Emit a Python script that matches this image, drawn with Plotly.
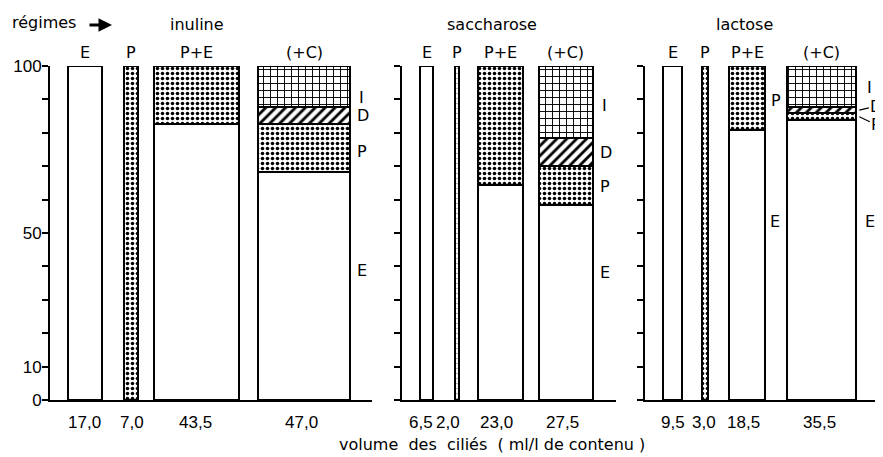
import plotly.graph_objects as go

# ---------------- data ----------------
panels = ["inuline", "saccharose", "lactose"]
regimes = ["E", "P", "P+E", "(+C)"]

# volume des ciliés (ml/l de contenu) -> bar widths
vol_inuline = [17.0, 7.0, 43.5, 47.0]
vol_saccharose = [6.5, 2.0, 23.0, 27.5]
vol_lactose = [9.5, 3.0, 18.5, 35.5]

# composition (%) of each bar: E, P, D, I
E_inuline = [100, 0, 82.6, 68.3]
P_inuline = [0, 100, 17.4, 14.4]
D_inuline = [0, 0, 0, 5.1]
I_inuline = [0, 0, 0, 12.2]

E_saccharose = [100, 0, 64.4, 58.4]
P_saccharose = [0, 100, 35.6, 11.7]
D_saccharose = [0, 0, 0, 8.3]
I_saccharose = [0, 0, 0, 21.6]

E_lactose = [100, 0, 80.8, 83.8]
P_lactose = [0, 100, 19.2, 2.0]
D_lactose = [0, 0, 0, 1.9]
I_lactose = [0, 0, 0, 12.3]

y_tickvals = list(range(0, 101, 10))
y_ticktext = ["0", "10", "", "", "", "50", "", "", "", "", "100"]

vol_labels_inuline = ["17,0", "7,0", "43,5", "47,0"]
vol_labels_saccharose = ["6,5", "2,0", "23,0", "27,5"]
vol_labels_lactose = ["9,5", "3,0", "18,5", "35,5"]

# ---------------- layout constants ----------------
OX, OY = 8, 8                # page body margin of the browser
W, H = 883 - OX, 457 - OY    # figure size so that the page fits the window
S = 1.96                     # px per volume unit
FONT = "DejaVu Sans"
NUMFONT = "Liberation Sans"
FS = 16
panel_px = [(50, 372), (402, 616), (645, 883)]
gaps = {  # gap before each bar, in volume units
    "inuline": [9.3, 11.5, 8.3, 9.7],
    "saccharose": [9.4, 11.0, 9.9, 8.1],
    "lactose": [9.3, 10.1, 11.0, 10.9],
}
vol_shift = {
    "inuline": [0, 1, -1, -3],
    "saccharose": [-6, -9, -4, -3],
    "lactose": [0, -1, -4, -2],
}
y_top_px, y_bot_px = 66, 400


def px(x):
    return (x - OX) / W


def py(y):
    return 1 - (y - OY) / H


vols = {"inuline": vol_inuline, "saccharose": vol_saccharose, "lactose": vol_lactose}
vol_labels = {"inuline": vol_labels_inuline, "saccharose": vol_labels_saccharose,
              "lactose": vol_labels_lactose}
comps = {
    "inuline": {"E": E_inuline, "P": P_inuline, "D": D_inuline, "I": I_inuline},
    "saccharose": {"E": E_saccharose, "P": P_saccharose, "D": D_saccharose, "I": I_saccharose},
    "lactose": {"E": E_lactose, "P": P_lactose, "D": D_lactose, "I": I_lactose},
}
patterns = {
    "E": dict(shape=""),
    "P": dict(shape=".", fgcolor="black", bgcolor="white", size=5, solidity=0.4),
    "D": dict(shape="/", fgcolor="black", bgcolor="white", size=7, solidity=0.4),
    "I": dict(shape="+", fgcolor="black", bgcolor="white", size=7, solidity=0.25),
}

fig = go.Figure()
annotations = []
layout_axes = {}
centers_all = {}
txtfont = dict(family=FONT, size=FS, color="black")
numfont = dict(family=NUMFONT, size=17, color="black")

for k, panel in enumerate(panels):
    sfx = "" if k == 0 else str(k + 1)
    xa, ya = "x" + sfx, "y" + sfx
    v = vols[panel]
    centers, pos = [], 0.0
    for g, w in zip(gaps[panel], v):
        pos += g
        centers.append(pos + w / 2)
        pos += w
    centers_all[panel] = centers
    for comp in ["E", "P", "D", "I"]:
        vals = comps[panel][comp]
        idx = [i for i, val in enumerate(vals) if val > 0]
        fig.add_trace(go.Bar(
            x=[centers[i] for i in idx],
            y=[vals[i] for i in idx],
            width=[v[i] for i in idx],
            xaxis=xa, yaxis=ya,
            marker=dict(color="white", line=dict(color="black", width=2),
                        pattern=patterns[comp]),
            showlegend=False, hoverinfo="skip",
        ))
    x0, x1 = panel_px[k]
    layout_axes["xaxis" + sfx] = dict(
        domain=[max(0, px(x0)), min(1, px(x1))], range=[0, (x1 - x0) / S], anchor=ya,
        showline=True, linecolor="black", linewidth=2, ticks="",
        showticklabels=False, showgrid=False, zeroline=False, fixedrange=True,
        automargin=False)
    layout_axes["yaxis" + sfx] = dict(
        domain=[py(y_bot_px), py(y_top_px)], range=[0, 100], anchor=xa,
        showline=True, linecolor="black", linewidth=2, ticks="outside",
        ticklen=6, tickwidth=2, tickcolor="black",
        tickvals=y_tickvals,
        ticktext=y_ticktext if k == 0 else [""] * len(y_tickvals),
        tickfont=numfont, ticklabelstandoff=-3,
        showgrid=False, zeroline=False, fixedrange=True,
        automargin=False)
    for i, r in enumerate(regimes):
        annotations.append(dict(x=centers[i], y=100, xref=xa, yref=ya, text=r,
                                showarrow=False, xanchor="center", yanchor="bottom",
                                yshift=2, font=txtfont))
    for i, t in enumerate(vol_labels[panel]):
        annotations.append(dict(x=centers[i], y=0, xref=xa, yref=ya, text=t,
                                showarrow=False, xanchor="center", yanchor="middle",
                                yshift=-22, xshift=vol_shift[panel][i], font=numfont))

# titles
for name, cx in zip(panels, [197, 492, 744]):
    annotations.append(dict(x=px(cx), y=py(24), xref="paper", yref="paper",
                            text=name, showarrow=False, xanchor="center",
                            yanchor="middle", font=txtfont))
annotations.append(dict(x=px(44), y=py(23), xref="paper", yref="paper",
                        text="régimes", showarrow=False, xanchor="center",
                        yanchor="middle", font=txtfont))
annotations.append(dict(x=px(112), y=py(25), xref="paper", yref="paper",
                        text="", showarrow=True, ax=-24, ay=0, arrowhead=2,
                        arrowsize=0.9, arrowwidth=3, arrowcolor="black"))
annotations.append(dict(x=px(492), y=py(444), xref="paper", yref="paper",
                        text="volume\u00a0\u00a0des\u00a0\u00a0ciliés\u00a0\u00a0( ml/l de contenu )",
                        showarrow=False, xanchor="center", yanchor="middle",
                        font=txtfont))


def right_edge(panel, i):
    return centers_all[panel][i] + vols[panel][i] / 2


seg_labels = [
    ("inuline", 3, "I", 90.7, 7), ("inuline", 3, "D", 85.3, 5),
    ("inuline", 3, "P", 74.3, 5), ("inuline", 3, "E", 38.9, 5),
    ("saccharose", 3, "I", 88.3, 7), ("saccharose", 3, "D", 74.0, 5),
    ("saccharose", 3, "P", 63.8, 5), ("saccharose", 3, "E", 38.3, 5),
    ("lactose", 2, "P", 89.8, 4), ("lactose", 2, "E", 53.3, 3),
    ("lactose", 3, "I", 93.7, 9), ("lactose", 3, "E", 53.3, 7),
]
for panel, i, t, yv, xs in seg_labels:
    k = panels.index(panel)
    sfx = "" if k == 0 else str(k + 1)
    annotations.append(dict(x=right_edge(panel, i), y=yv, xref="x" + sfx, yref="y" + sfx,
                            text=t, showarrow=False, xanchor="left", yanchor="middle",
                            xshift=xs, font=txtfont))
for t, yv, ax, ay in [("D", 86.8, 17, -4), ("P", 84.8, 17, 8)]:
    annotations.append(dict(x=right_edge("lactose", 3), y=yv, xref="x3", yref="y3",
                            text=t, showarrow=True, arrowhead=0, arrowwidth=1.2,
                            arrowcolor="black", ax=ax, ay=ay, xshift=3,
                            font=txtfont))

fig.update_layout(
    template="none",
    width=W, height=H, margin=dict(l=0, r=0, t=0, b=0, pad=0),
    paper_bgcolor="white", plot_bgcolor="white",
    barmode="stack", showlegend=False,
    annotations=annotations, font=txtfont,
    **layout_axes,
)
fig.write_html("out.html")
